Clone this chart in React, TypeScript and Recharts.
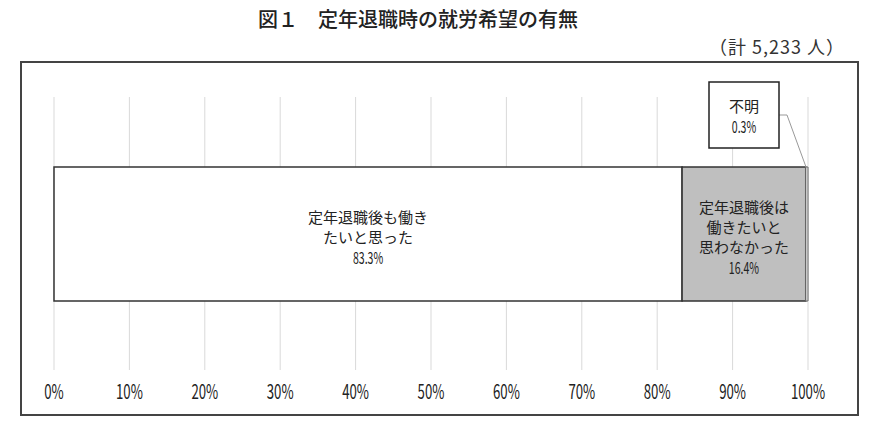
import { BarChart, Bar, XAxis, YAxis, CartesianGrid } from 'recharts'

const categories = ['全体']
const wantWork = [83.3]
const notWant = [16.4]
const unknown = [0.3]
const xTicks = [0, 10, 20, 30, 40, 50, 60, 70, 80, 90, 100]

const wantLabel = ['定年退職後も働き', 'たいと思った']
const notWantLabel = ['定年退職後は', '働きたいと', '思わなかった']
const unknownLabel = ['不明']

const title = '図１　定年退職時の就労希望の有無'
const note = '（計 5,233 人）'

const data = categories.map((name, i) => ({
    name,
    want: wantWork[i],
    notWant: notWant[i],
    unknown: unknown[i],
}))

const FONT = "'Noto Sans CJK JP', 'Noto Sans', sans-serif"
const LINE = 20
const NARROW = 0.66

// text block; the last line (a percentage) is squeezed like the narrow digits of the original
function TextLines({ cx, top, lines }: { cx: number; top: number; lines: string[] }) {
    return (
        <g>
            {lines.map((t, i) => {
                const isPct = i === lines.length - 1
                const y = top + i * LINE + (isPct ? 1 : 0)
                return (
                    <text
                        key={i}
                        x={0}
                        y={0}
                        transform={`translate(${cx},${y}) scale(${isPct ? 0.66 : 1},1)`}
                        textAnchor="middle"
                        dominantBaseline="central"
                        fontSize={isPct ? 16 : 15}
                        fill="#222"
                    >
                        {t}
                    </text>
                )
            })}
        </g>
    )
}

// multi-line label centred inside a bar segment
function centerLabel(lines: string[], values: number[]) {
    return (props: any) => {
        const { x, y, width, height, index } = props
        const all = [...lines, `${values[index ?? 0].toFixed(1)}%`]
        const cx = Number(x) + Number(width) / 2
        const cy = Number(y) + Number(height) / 2
        return <TextLines cx={cx} top={cy + 2 - ((all.length - 1) * LINE) / 2} lines={all} />
    }
}

// callout box above the tiny last segment
function calloutLabel(props: any) {
    const { x, y, width, index } = props
    const xe = Number(x) + Number(width)
    const top = Number(y)
    const bx = xe - 99
    const by = top - 85
    const bw = 70
    const bh = 66
    const ly = top - 52
    const all = [...unknownLabel, `${unknown[index ?? 0].toFixed(1)}%`]
    return (
        <g>
            <polyline
                points={`${bx + bw},${ly} ${bx + bw + 8},${ly} ${xe - 2},${top}`}
                fill="none"
                stroke="#999"
                strokeWidth={1}
            />
            <rect x={bx} y={by} width={bw} height={bh} fill="#fff" stroke="#222" strokeWidth={1.5} />
            <TextLines cx={bx + bw / 2} top={by + bh / 2 - LINE / 2} lines={all} />
        </g>
    )
}

function PctTick(props: any) {
    const { x, y, payload } = props
    return (
        <text
            x={0}
            y={0}
            transform={`translate(${x},${Number(y) + 12}) scale(${NARROW},1)`}
            textAnchor="middle"
            dominantBaseline="central"
            fontSize={20}
            fill="#222"
        >
            {`${payload.value}%`}
        </text>
    )
}

export default function App() {
    return (
        <div style={{ position: 'absolute', left: 0, top: 0, width: 870, height: 426, background: '#fff', fontFamily: FONT }}>
            {/* Title */}
            <div style={{ position: 'absolute', left: 0, width: 836, top: 4, textAlign: 'center', fontSize: 20, fontWeight: 500, color: '#222', lineHeight: '30px' }}>
                {title}
            </div>
            <div style={{ position: 'absolute', right: 25, top: 32, fontSize: 18, color: '#333', lineHeight: '28px', letterSpacing: 1 }}>
                {note}
            </div>

            {/* Frame */}
            <div style={{ position: 'absolute', left: 20, top: 61, width: 839, height: 355, border: '2px solid #444', boxSizing: 'border-box' }} />

            <div style={{ position: 'absolute', left: 0, top: 0 }}>
                <BarChart
                    width={870}
                    height={426}
                    data={data}
                    layout="vertical"
                    margin={{ top: 97, right: 62, left: 54, bottom: 26 }}
                >
                    <CartesianGrid horizontal={false} stroke="#d9d9d9" />
                    <XAxis
                        type="number"
                        domain={[0, 100]}
                        ticks={xTicks}
                        axisLine={false}
                        tickLine={false}
                        tick={<PctTick />}
                        interval={0}
                    />
                    <YAxis type="category" dataKey="name" hide />
                    <Bar dataKey="want" stackId="a" fill="#fff" stroke="#333" strokeWidth={1.5} barSize={134} isAnimationActive={false} label={centerLabel(wantLabel, wantWork)} />
                    <Bar dataKey="notWant" stackId="a" fill="#bfbfbf" stroke="#333" strokeWidth={1.5} barSize={134} isAnimationActive={false} label={centerLabel(notWantLabel, notWant)} />
                    <Bar dataKey="unknown" stackId="a" fill="#e8e8e8" stroke="#666" strokeWidth={1} barSize={134} isAnimationActive={false} label={calloutLabel} />
                </BarChart>
            </div>
        </div>
    )
}
